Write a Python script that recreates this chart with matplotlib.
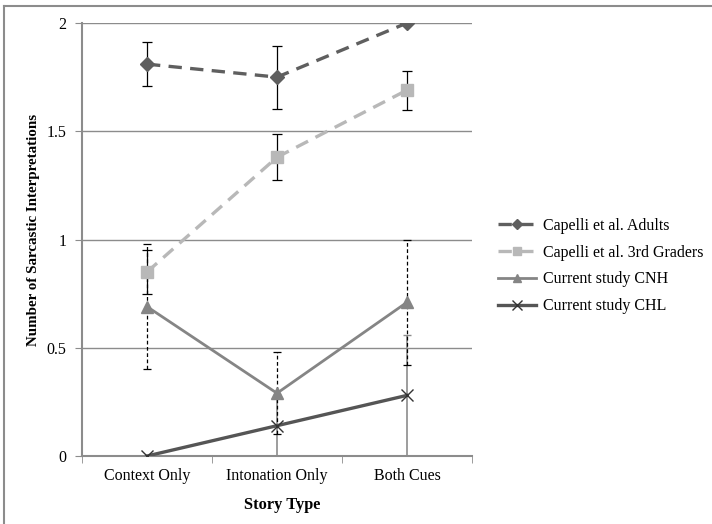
import matplotlib
matplotlib.use("Agg")
import matplotlib.pyplot as plt
from matplotlib.lines import Line2D
import numpy as np

plt.rcParams['font.family'] = ['Liberation Serif', 'DejaVu Serif']

categories = ["Context Only", "Intonation Only", "Both Cues"]
series_names = ["Capelli et al. Adults", "Capelli et al. 3rd Graders",
                "Current study CNH", "Current study CHL"]

adults = [1.81, 1.75, 2.00]
adults_err = [0.10, 0.145, 0.0]
graders = [0.85, 1.38, 1.69]
graders_err = [0.10, 0.105, 0.09]
cnh = [0.69, 0.29, 0.71]
cnh_err = [0.29, 0.19, 0.29]
chl = [0.00, 0.14, 0.28]
chl_err = [0.0, 0.14, 0.28]

y_ticks = [0, 0.5, 1, 1.5, 2]
y_tick_labels = ["0", "0.5", "1", "1.5", "2"]

W, H = 712, 524
fig = plt.figure(figsize=(W / 100, H / 100), dpi=100)
ax = fig.add_axes([82 / W, (H - 456) / H, 390 / W, 433 / H])

x = np.arange(len(categories))

# Error bars
ax.errorbar(x, chl, yerr=chl_err, fmt='none', ecolor='#8c8c8c', elinewidth=1.2,
            capsize=3, capthick=1.0, zorder=2)
eb = ax.errorbar(x, cnh, yerr=cnh_err, fmt='none', ecolor='black', elinewidth=0.9,
                 capsize=3, capthick=0.9, zorder=2)
for lc in eb[2]:
    lc.set_linestyle((0, (3, 2)))
ax.errorbar(x, adults, yerr=adults_err, fmt='none', ecolor='black', elinewidth=0.9,
            capsize=3.5, capthick=0.9, zorder=2)
ax.errorbar(x, graders, yerr=graders_err, fmt='none', ecolor='black', elinewidth=0.9,
            capsize=3.5, capthick=0.9, zorder=2)

# Series lines
ax.plot(x, adults, color='#5f5f5f', lw=2.4, ls=(0, (4, 2.5)), marker='D', ms=7,
        label=series_names[0], zorder=4)
ax.plot(x, graders, color='#b8b8b8', lw=2.4, ls=(0, (4, 2.5)), marker='s', ms=8,
        label=series_names[1], zorder=4)
ax.plot(x, cnh, color='#858585', lw=2.0, marker='^', ms=8,
        label=series_names[2], zorder=3)
ax.plot(x, chl, color='#555555', lw=2.4, marker='x', ms=9, mec='#333333', mew=1.0,
        label=series_names[3], zorder=3)

ax.set_xlim(-0.5, 2.5)
ax.set_ylim(0, 2)
ax.set_yticks(y_ticks)
ax.set_yticklabels(y_tick_labels)
ax.set_xticks(x)
ax.set_xticklabels(categories)
ax.set_xticks([-0.5, 0.5, 1.5, 2.5], minor=True)
ax.tick_params(axis='x', which='major', length=0, pad=9, labelsize=11.5)
ax.tick_params(axis='x', which='minor', length=5, color='#8c8c8c', direction='out')
ax.tick_params(axis='y', length=5, color='#8c8c8c', direction='out', pad=6, labelsize=11.5)

ax.yaxis.grid(True, color='#8c8c8c', lw=1.0)
ax.set_axisbelow(True)
for side in ['top', 'right']:
    ax.spines[side].set_visible(False)
for side in ['left', 'bottom']:
    ax.spines[side].set_color('#8c8c8c')
    ax.spines[side].set_linewidth(1.5)

fig.text(282 / W, 1 - 505 / H, "Story Type", ha='center', va='center',
         fontsize=11.8, fontweight='bold')
fig.text(34 / W, 1 - 230 / H, "Number of Sarcastic Interpretations", ha='center',
         va='center', rotation=90, fontsize=10.8, fontweight='bold')

leg = ax.legend(loc='center left', bbox_to_anchor=(498 / W, 1 - 266 / H),
                bbox_transform=fig.transFigure, frameon=False, fontsize=11.5,
                handlelength=2.4, handletextpad=0.4, labelspacing=0.68,
                borderaxespad=0, markerscale=0.75, borderpad=0)

# Outer frame lines
fig.add_artist(Line2D([4 / W, 1], [1 - 6 / H, 1 - 6 / H], transform=fig.transFigure,
                      color='#8c8c8c', lw=1.5))
fig.add_artist(Line2D([4 / W, 4 / W], [0, 1 - 6 / H], transform=fig.transFigure,
                      color='#8c8c8c', lw=1.5))

fig.savefig("out.png", dpi=100)
